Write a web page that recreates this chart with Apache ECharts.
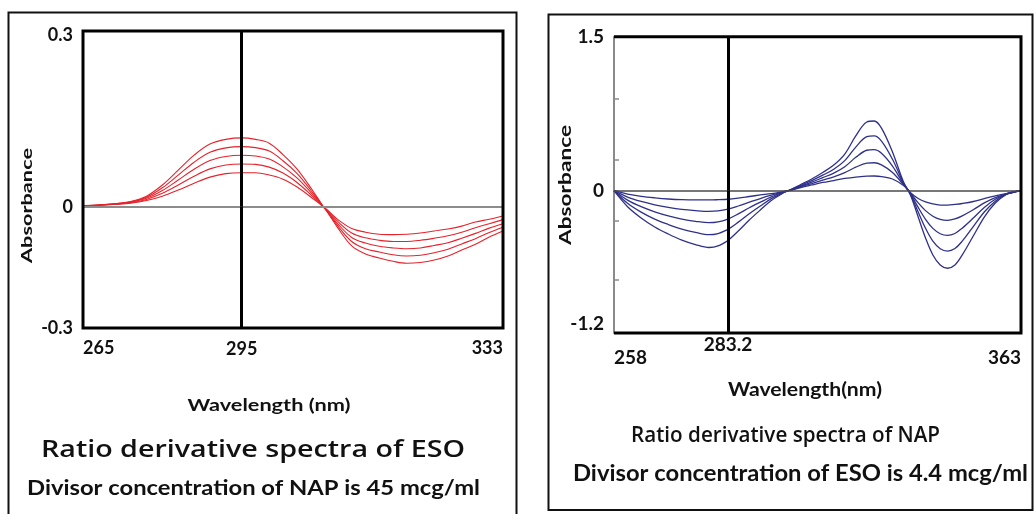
<!DOCTYPE html>
<html><head><meta charset="utf-8">
<script src="https://cdn.jsdelivr.net/npm/echarts@6/dist/echarts.min.js"></script>
<style>html,body{margin:0;padding:0;background:#fff}#c{width:1034px;height:514px}</style>
</head><body><div id="c"></div>
<script>
// ---------- Left panel: ratio derivative spectra of ESO ----------
const esoWavelength = [265,268,271,274,277,280,283,286,289,292,295,297,299,301,303,305,307,309,311,313,315,317,319,321,323,325,327,329,331,333];
const esoCurve1 = [0.002,0.0025,0.004,0.006,0.0105,0.018,0.0285,0.040,0.0505,0.0565,0.058,0.058,0.054,0.047,0.034,0.017,-0.002,-0.032,-0.054,-0.063,-0.068,-0.069,-0.068,-0.065,-0.060,-0.055,-0.048,-0.038,-0.031,-0.023];
const esoCurve2 = [0.002,0.0026,0.0043,0.0068,0.0124,0.0228,0.037,0.052,0.0646,0.0711,0.0729,0.0723,0.0676,0.0575,0.0418,0.021,-0.002,-0.037,-0.065,-0.077,-0.083,-0.086,-0.086,-0.083,-0.078,-0.072,-0.063,-0.052,-0.042,-0.032];
const esoCurve3 = [0.002,0.0028,0.0045,0.0075,0.0143,0.0275,0.0455,0.064,0.0788,0.0858,0.0878,0.0865,0.0813,0.068,0.0495,0.025,-0.0025,-0.043,-0.076,-0.090,-0.098,-0.102,-0.104,-0.102,-0.096,-0.089,-0.078,-0.066,-0.053,-0.042];
const esoCurve4 = [0.002,0.0029,0.0048,0.0083,0.0161,0.0323,0.054,0.076,0.0929,0.1004,0.1026,0.1008,0.0949,0.0785,0.0573,0.029,-0.003,-0.048,-0.086,-0.104,-0.112,-0.119,-0.122,-0.120,-0.114,-0.105,-0.092,-0.079,-0.064,-0.051];
const esoCurve5 = [0.002,0.003,0.005,0.009,0.018,0.037,0.0625,0.088,0.107,0.115,0.1175,0.115,0.1085,0.089,0.065,0.033,-0.003,-0.053,-0.097,-0.117,-0.127,-0.135,-0.140,-0.138,-0.132,-0.122,-0.107,-0.093,-0.075,-0.060];
const esoXRange = [265, 333];
const esoMarker = 295;
const esoYRange = [-0.3, 0.3];

// ---------- Right panel: ratio derivative spectra of NAP ----------
const napWavelength = [258,261,264,267,270,273,276,279,281,283.2,286,289,292,295,298,300,303,306,309,312,315,318,321,323,325,328,331,333,335,337,339,341,343,345,347,350,353,356,359,361,363];
const napCurve1 = [0,-0.028,-0.047,-0.06,-0.07,-0.076,-0.078,-0.078,-0.076,-0.072,-0.062,-0.049,-0.036,-0.024,-0.009,0.002,0.031,0.056,0.08,0.099,0.119,0.133,0.141,0.143,0.138,0.114,0.051,-0.019,-0.066,-0.095,-0.112,-0.121,-0.122,-0.116,-0.108,-0.091,-0.066,-0.043,-0.024,-0.013,0];
const napCurve2 = [0,-0.054,-0.091,-0.119,-0.141,-0.158,-0.168,-0.174,-0.17,-0.156,-0.129,-0.097,-0.066,-0.038,-0.013,0.003,0.038,0.07,0.103,0.135,0.176,0.229,0.268,0.272,0.251,0.177,0.059,-0.025,-0.103,-0.168,-0.215,-0.242,-0.25,-0.238,-0.212,-0.161,-0.103,-0.058,-0.026,-0.012,0];
const napCurve3 = [0,-0.079,-0.135,-0.178,-0.212,-0.239,-0.258,-0.27,-0.263,-0.239,-0.195,-0.144,-0.097,-0.052,-0.016,0.004,0.045,0.084,0.127,0.171,0.233,0.325,0.394,0.4,0.365,0.24,0.067,-0.031,-0.141,-0.241,-0.318,-0.363,-0.377,-0.361,-0.316,-0.231,-0.141,-0.072,-0.028,-0.012,0];
const napCurve4 = [0,-0.106,-0.181,-0.24,-0.285,-0.324,-0.352,-0.371,-0.361,-0.326,-0.265,-0.194,-0.129,-0.067,-0.02,0.006,0.052,0.098,0.151,0.209,0.293,0.425,0.526,0.534,0.483,0.306,0.076,-0.038,-0.18,-0.317,-0.426,-0.49,-0.51,-0.488,-0.425,-0.303,-0.18,-0.088,-0.03,-0.012,0];
const napCurve5 = [0,-0.135,-0.23,-0.306,-0.365,-0.416,-0.454,-0.479,-0.466,-0.42,-0.34,-0.247,-0.163,-0.083,-0.024,0.007,0.06,0.114,0.177,0.25,0.357,0.533,0.669,0.679,0.61,0.377,0.085,-0.045,-0.222,-0.399,-0.542,-0.626,-0.654,-0.626,-0.542,-0.382,-0.222,-0.104,-0.032,-0.011,0];
const napXRange = [258, 363];
const napMarker = 283.2;
const napYRange = [-1.2, 1.5];
const napMinorTicksUpper = [0.3, 0.9];
const napMinorTicksLower = [-0.25, -0.75];

// ---------- Texts ----------
const texts = {
  eso: {yName: 'Absorbance', xName: 'Wavelength (nm)', title: 'Ratio derivative spectra of ESO', sub: 'Divisor concentration of NAP is 45 mcg/ml'},
  nap: {yName: 'Absorbance', xName: 'Wavelength(nm)', title: 'Ratio derivative spectra of NAP', sub: 'Divisor concentration of ESO is 4.4 mcg/ml'}
};

// ---------- Layout / style ----------
const FONT = 'Lato';
const TITLE_FONT = '"Open Sans"';
const panels = [
  {wl: esoWavelength, curves: [esoCurve1, esoCurve2, esoCurve3, esoCurve4, esoCurve5], xr: esoXRange, marker: esoMarker, yr: esoYRange,
   box: {x0: 83, x1: 503, y0: 31, y1: 328, xb: 241.7, yb: 206.7},
   color: '#e5232b', lw: 1.1, zeroColor: '#8c8c8c', zeroW: 2, tickFont: 18, xMargin: 11, minYAlign: 'middle',
   markerLabelDist: 12, maxLabelShift: 8, minor: null},
  {wl: napWavelength, curves: [napCurve1, napCurve2, napCurve3, napCurve4, napCurve5], xr: napXRange, marker: napMarker, yr: napYRange,
   box: {x0: 614, x1: 1021, y0: 36.7, y1: 333, xb: 728, yb: 190.7},
   color: '#2f3189', lw: 1.3, zeroColor: '#4a4a4a', zeroW: 1.5, tickFont: 19, xMargin: 15, minYAlign: 'bottom',
   markerLabelDist: 2, maxLabelShift: 0, minor: [napMinorTicksUpper, napMinorTicksLower]}
];

const grids = [], xAxes = [], yAxes = [], series = [];
panels.forEach((p, pi) => {
  const b = p.box;
  for (let q = 0; q < 4; q++) {
    const leftSide = q % 2 === 0, top = q < 2;
    const gi = pi * 4 + q;
    grids.push({left: leftSide ? b.x0 : b.xb, width: leftSide ? b.xb - b.x0 : b.x1 - b.xb,
                top: top ? b.y0 : b.yb, height: top ? b.yb - b.y0 : b.y1 - b.yb,
                outerBoundsMode: 'none', containLabel: false, show: false});
    const fontBase = {color: '#111', fontFamily: FONT, fontWeight: 'bold', fontSize: p.tickFont};
    const labelBase = Object.assign({show: true}, fontBase);
    const xa = {type: 'value', gridIndex: gi, min: leftSide ? p.xr[0] : p.marker, max: leftSide ? p.marker : p.xr[1],
      axisLine: {show: false}, axisTick: {show: false}, splitLine: {show: false}, axisLabel: {show: false}};
    if (q === 2) xa.axisLabel = Object.assign({}, labelBase, {customValues: [p.xr[0]], align: 'left', margin: p.xMargin});
    if (q === 3) xa.axisLabel = Object.assign({}, labelBase, {customValues: [p.xr[1]], align: 'right', margin: p.xMargin});
    xAxes.push(xa);
    const ya = {type: 'value', gridIndex: gi, min: top ? 0 : p.yr[0], max: top ? p.yr[1] : 0,
      axisLine: {show: false}, axisTick: {show: false}, splitLine: {show: false}, axisLabel: {show: false}};
    if (q === 0) ya.axisLabel = Object.assign({}, labelBase, {customValues: [0, p.yr[1]], margin: 10,
      formatter: (v) => (v === p.yr[1] ? '{hi|' + v + '}' : '{n|' + v + '}'),
      rich: {hi: Object.assign({padding: [p.maxLabelShift, 0, 0, 0]}, fontBase), n: Object.assign({}, fontBase)}});
    if (q === 2) ya.axisLabel = Object.assign({}, labelBase, {customValues: [p.yr[0]], margin: 10, verticalAlign: p.minYAlign});
    if (p.minor && leftSide) {
      ya.axisLine = {show: true, onZero: false, lineStyle: {color: '#8a8a8a', width: 2}};
      ya.axisTick = {show: true, inside: true, length: 5, customValues: top ? p.minor[0] : p.minor[1], lineStyle: {color: '#8a8a8a', width: 1.5}};
    }
    yAxes.push(ya);
    p.curves.forEach((c) => {
      series.push({type: 'line', xAxisIndex: gi, yAxisIndex: gi, data: p.wl.map((w, i) => [w, c[i]]),
        smooth: 0.35, symbol: 'none', showSymbol: false, clip: true, silent: true, z: 3,
        lineStyle: {color: p.color, width: p.lw}});
    });
    if (top) {
      series.push({type: 'line', xAxisIndex: gi, yAxisIndex: gi, data: [], clip: false, z: 1, silent: true,
        markLine: {silent: true, symbol: ['none', 'none'], animation: false, label: {show: false},
          lineStyle: {color: p.zeroColor, width: p.zeroW, type: 'solid'}, data: [{yAxis: 0}]}});
    }
    if (!leftSide) {
      series.push({type: 'line', xAxisIndex: gi, yAxisIndex: gi, data: [], clip: false, z: 5, silent: true,
        markLine: {silent: true, symbol: ['none', 'none'], animation: false,
          label: top ? {show: false} : {show: true, position: 'start', distance: p.markerLabelDist, formatter: '{c}', color: '#111',
            fontFamily: FONT, fontWeight: 'bold', fontSize: p.tickFont},
          lineStyle: {color: '#000', width: 3, type: 'solid'}, data: [{xAxis: p.marker}]}});
    }
  }
});

const mctx = document.createElement('canvas').getContext('2d');
function fitText(str, x, y, size, weight, targetW, rot, family) {
  const fam = family || FONT;
  mctx.font = weight + ' ' + size + 'px ' + fam;
  const w = mctx.measureText(str).width || targetW;
  return {type: 'text', x: x, y: y, rotation: rot || 0, scaleX: targetW / w, z: 20, silent: true,
    style: {text: str, fontSize: size, fontWeight: weight, fontFamily: fam, fill: '#111',
      align: 'center', verticalAlign: 'middle', textAlign: 'center', textVerticalAlign: 'middle'}};
}

const graphic = [
  {type: 'rect', shape: {x: 8.5, y: 12.5, width: 508, height: 512}, style: {fill: 'none', stroke: '#111', lineWidth: 2}, z: 10, silent: true},
  {type: 'rect', shape: {x: 548.5, y: 14.5, width: 484, height: 495.5}, style: {fill: 'none', stroke: '#111', lineWidth: 2}, z: 10, silent: true},
  {type: 'rect', shape: {x: 83, y: 31, width: 420, height: 297}, style: {fill: 'none', stroke: '#000', lineWidth: 3}, z: 10, silent: true},
  {type: 'polyline', shape: {points: [[614, 36.7], [1021, 36.7], [1021, 333], [614, 333]]}, style: {fill: 'none', stroke: '#000', lineWidth: 3}, z: 10, silent: true},
  fitText(texts.eso.yName, 27, 205.5, 16, 'bold', 115, Math.PI / 2),
  fitText(texts.eso.xName, 269, 406, 17, 'bold', 163),
  fitText(texts.eso.title, 253, 450, 23, '600', 424, 0, TITLE_FONT),
  fitText(texts.eso.sub, 253.5, 488, 21, 'bold', 453),
  fitText(texts.nap.yName, 566, 185, 17, 'bold', 120, Math.PI / 2),
  fitText(texts.nap.xName, 805, 390, 18, 'bold', 154),
  fitText(texts.nap.title, 785.5, 436, 21, '600', 309, 0, TITLE_FONT),
  fitText(texts.nap.sub, 800.5, 474, 22, 'bold', 455)
];

const chart = echarts.init(document.getElementById('c'), null, {renderer: 'canvas'});
chart.setOption({
  backgroundColor: '#fff',
  animation: false,
  grid: grids, xAxis: xAxes, yAxis: yAxes, series: series, graphic: graphic
});
</script></body></html>
